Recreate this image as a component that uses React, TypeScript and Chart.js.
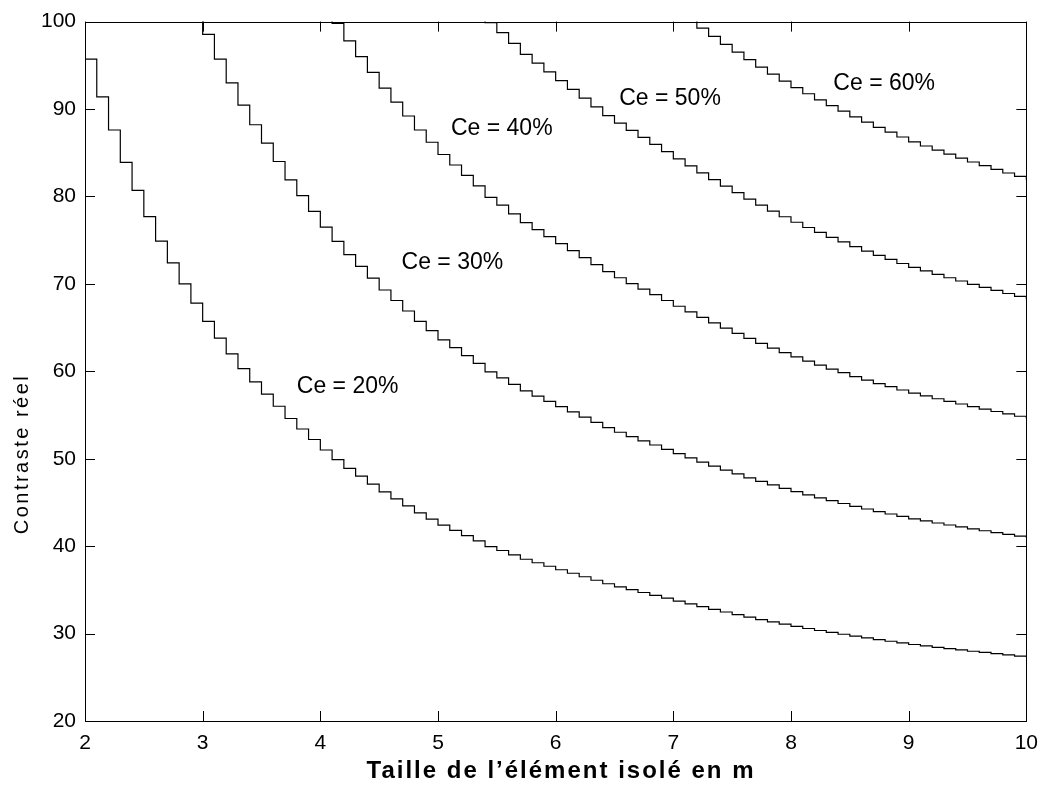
import { useEffect, useRef } from "react";
import { Chart, registerables } from "chart.js";

Chart.register(...registerables);

// Element size (m), sampled every 0.1 m
const sizes = [
  2.0, 2.1, 2.2, 2.3, 2.4, 2.5, 2.6, 2.7, 2.8, 2.9,
  3.0, 3.1, 3.2, 3.3, 3.4, 3.5, 3.6, 3.7, 3.8, 3.9,
  4.0, 4.1, 4.2, 4.3, 4.4, 4.5, 4.6, 4.7, 4.8, 4.9,
  5.0, 5.1, 5.2, 5.3, 5.4, 5.5, 5.6, 5.7, 5.8, 5.9,
  6.0, 6.1, 6.2, 6.3, 6.4, 6.5, 6.6, 6.7, 6.8, 6.9,
  7.0, 7.1, 7.2, 7.3, 7.4, 7.5, 7.6, 7.7, 7.8, 7.9,
  8.0, 8.1, 8.2, 8.3, 8.4, 8.5, 8.6, 8.7, 8.8, 8.9,
  9.0, 9.1, 9.2, 9.3, 9.4, 9.5, 9.6, 9.7, 9.8, 9.9,
  10.0,
];

// Real contrast for each apparent contrast Ce (values from the first size listed)
const ce20Start = 2.0;
const ce20 = [
  95.7, 91.4, 87.6, 83.9, 80.7, 77.7, 74.9, 72.4, 70.0, 67.8,
  65.7, 63.8, 62.0, 60.3, 58.8, 57.4, 56.0, 54.6, 53.4, 52.2,
  51.0, 49.9, 48.9, 48.0, 47.1, 46.2, 45.4, 44.6, 43.8, 43.1,
  42.4, 41.8, 41.2, 40.6, 39.95, 39.5, 39.0, 38.5, 38.1, 37.7,
  37.3, 36.9, 36.5, 36.1, 35.7, 35.35, 35.02, 34.7, 34.38, 34.05,
  33.72, 33.4, 33.08, 32.77, 32.47, 32.17, 31.88, 31.6, 31.33, 31.07,
  30.82, 30.58, 30.35, 30.13, 29.92, 29.7, 29.5, 29.3, 29.12, 28.93,
  28.75, 28.59, 28.43, 28.28, 28.13, 27.98, 27.84, 27.7, 27.56, 27.43,
  27.3,
];

const ce30Start = 2.9;
const ce30 = [
  101.7,
  98.55, 95.7, 93.0, 90.45, 88.2, 86.1, 84.0, 81.9, 80.1, 78.3,
  76.5, 74.85, 73.35, 72.0, 70.65, 69.3, 68.1, 66.9, 65.7, 64.65,
  63.6, 62.7, 61.8, 60.9, 59.93, 59.25, 58.5, 57.75, 57.15, 56.55,
  55.95, 55.35, 54.75, 54.15, 53.55, 53.03, 52.53, 52.05, 51.57, 51.08,
  50.58, 50.1, 49.62, 49.16, 48.7, 48.26, 47.82, 47.4, 47.0, 46.6,
  46.23, 45.87, 45.53, 45.2, 44.88, 44.55, 44.25, 43.95, 43.68, 43.4,
  43.13, 42.89, 42.65, 42.42, 42.2, 41.97, 41.76, 41.55, 41.34, 41.15,
  40.95,
];

const ce40Start = 4.0;
const ce40 = [
  102.0, 99.8, 97.8, 96.0, 94.2, 92.4, 90.8, 89.2, 87.6, 86.2,
  84.8, 83.6, 82.4, 81.2, 79.9, 79.0, 78.0, 77.0, 76.2, 75.4,
  74.6, 73.8, 73.0, 72.2, 71.4, 70.7, 70.04, 69.4, 68.76, 68.1,
  67.44, 66.8, 66.16, 65.54, 64.94, 64.34, 63.76, 63.2, 62.66, 62.14,
  61.64, 61.16, 60.7, 60.26, 59.84, 59.4, 59.0, 58.6, 58.24, 57.86,
  57.5, 57.18, 56.86, 56.56, 56.26, 55.96, 55.68, 55.4, 55.12, 54.86,
  54.6,
];

const ce50Start = 5.3;
const ce50 = [
  101.5, 99.88, 98.75, 97.5, 96.25, 95.25, 94.25,
  93.25, 92.25, 91.25, 90.25, 89.25, 88.38, 87.55, 86.75, 85.95, 85.13,
  84.3, 83.5, 82.7, 81.93, 81.18, 80.43, 79.7, 79.0, 78.33, 77.68,
  77.05, 76.45, 75.88, 75.33, 74.8, 74.25, 73.75, 73.25, 72.8, 72.33,
  71.88, 71.48, 71.08, 70.7, 70.33, 69.95, 69.6, 69.25, 68.9, 68.58,
  68.25,
];

const ce60Start = 7.1;
const ce60 = [
  100.2, 99.25, 98.3, 97.4, 96.5, 95.65, 94.8, 94.0, 93.2,
  92.45, 91.75, 91.05, 90.4, 89.75, 89.1, 88.5, 87.9, 87.35, 86.8,
  86.25, 85.77, 85.29, 84.84, 84.39, 83.94, 83.52, 83.1, 82.68, 82.29,
  81.9,
];

const xTicks = [2, 3, 4, 5, 6, 7, 8, 9, 10];
const yTicks = [20, 30, 40, 50, 60, 70, 80, 90, 100];

// Curve labels, anchored in data coordinates (left edge, vertical middle)
const curveLabels = [
  { text: "Ce = 20%", x: 3.8, y: 58.3 },
  { text: "Ce = 30%", x: 4.69, y: 72.4 },
  { text: "Ce = 40%", x: 5.11, y: 87.8 },
  { text: "Ce = 50%", x: 6.54, y: 91.2 },
  { text: "Ce = 60%", x: 8.36, y: 92.9 },
];

const xTitle = "Taille de l\u2019élément isolé en m";
const yTitle = "Contraste réel";

const FONT = "'Liberation Sans', Arial, Helvetica, sans-serif";
const TICK_LEN = 10;

function toPoints(start: number, values: number[]) {
  const offset = sizes.findIndex((s) => Math.abs(s - start) < 1e-9);
  return values.map((v, i) => ({ x: sizes[offset + i], y: v }));
}

const framePlugin = {
  id: "matlabFrame",
  afterDatasetsDraw(chart: any) {
    const { ctx, chartArea: a, scales } = chart;
    const xs = scales.x;
    const ys = scales.y;
    ctx.save();
    ctx.strokeStyle = "#000";
    ctx.lineWidth = 1;
    ctx.strokeRect(
      Math.round(a.left) + 0.5,
      Math.round(a.top) + 0.5,
      Math.round(a.right - a.left),
      Math.round(a.bottom - a.top)
    );
    ctx.beginPath();
    for (const t of xTicks) {
      const px = Math.round(xs.getPixelForValue(t)) + 0.5;
      ctx.moveTo(px, a.bottom);
      ctx.lineTo(px, a.bottom - TICK_LEN);
      ctx.moveTo(px, a.top);
      ctx.lineTo(px, a.top + TICK_LEN);
    }
    for (const t of yTicks) {
      const py = Math.round(ys.getPixelForValue(t)) + 0.5;
      ctx.moveTo(a.left, py);
      ctx.lineTo(a.left + TICK_LEN, py);
      ctx.moveTo(a.right, py);
      ctx.lineTo(a.right - TICK_LEN, py);
    }
    ctx.stroke();

    // curve labels
    ctx.fillStyle = "#000";
    ctx.font = `23px ${FONT}`;
    ctx.textAlign = "left";
    ctx.textBaseline = "middle";
    for (const l of curveLabels) {
      ctx.fillText(l.text, xs.getPixelForValue(l.x), ys.getPixelForValue(l.y));
    }

    // axis titles
    ctx.font = `bold 24px ${FONT}`;
    (ctx as any).letterSpacing = "2px";
    ctx.textAlign = "center";
    ctx.textBaseline = "middle";
    ctx.fillText(xTitle, 561, 771);

    ctx.font = `20px ${FONT}`;
    (ctx as any).letterSpacing = "2.5px";
    ctx.translate(22, 454);
    ctx.rotate(-Math.PI / 2);
    ctx.fillText(yTitle, 0, 0);
    ctx.restore();
  },
};

export default function App() {
  const canvasRef = useRef<HTMLCanvasElement | null>(null);

  useEffect(() => {
    const canvas = canvasRef.current;
    if (!canvas) return;
    const line = (start: number, values: number[], label: string) => ({
      label,
      data: toPoints(start, values),
      borderColor: "#000",
      borderWidth: 1.2,
      pointRadius: 0,
      fill: false,
      stepped: "before" as const,
      tension: 0,
    });
    const chart = new Chart(canvas, {
      type: "line",
      data: {
        datasets: [
          line(ce20Start, ce20, "Ce = 20%"),
          line(ce30Start, ce30, "Ce = 30%"),
          line(ce40Start, ce40, "Ce = 40%"),
          line(ce50Start, ce50, "Ce = 50%"),
          line(ce60Start, ce60, "Ce = 60%"),
        ],
      },
      options: {
        animation: false,
        responsive: false,
        devicePixelRatio: 1,
        layout: { padding: { left: 0, right: 18, top: 21, bottom: 0 } },
        plugins: {
          legend: { display: false },
          tooltip: { enabled: false },
        },
        scales: {
          x: {
            type: "linear",
            min: 2,
            max: 10,
            afterBuildTicks: (s: any) => {
              s.ticks = xTicks.map((v) => ({ value: v }));
            },
            afterFit: (s: any) => {
              s.height = 64;
            },
            grid: { display: false, drawTicks: false },
            border: { display: false },
            ticks: {
              color: "#000",
              font: { family: FONT, size: 21 },
              padding: 10,
              maxRotation: 0,
              autoSkip: false,
            },
          },
          y: {
            type: "linear",
            min: 20,
            max: 100,
            afterBuildTicks: (s: any) => {
              s.ticks = yTicks.map((v) => ({ value: v }));
            },
            afterFit: (s: any) => {
              s.width = 85;
            },
            grid: { display: false, drawTicks: false },
            border: { display: false },
            ticks: {
              color: "#000",
              font: { family: FONT, size: 21 },
              padding: 9,
              autoSkip: false,
            },
          },
        },
      },
      plugins: [framePlugin],
    } as any);
    return () => chart.destroy();
  }, []);

  return (
    <div style={{ position: "fixed", left: 0, top: 0, width: 1048, height: 785, background: "#fff" }}>
      <canvas ref={canvasRef} width={1048} height={785} style={{ display: "block" }} />
    </div>
  );
}
